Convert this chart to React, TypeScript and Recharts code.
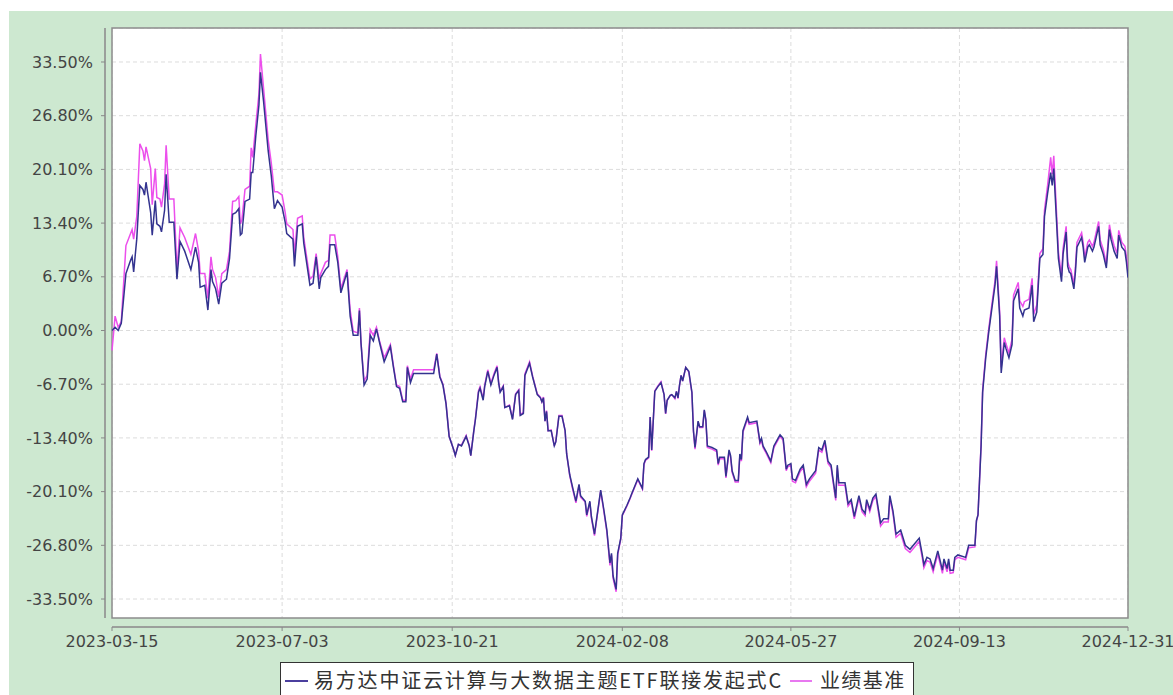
import React from "react";
import {
  LineChart,
  Line,
  XAxis,
  YAxis,
  CartesianGrid,
  ReferenceArea,
  ReferenceLine,
} from "recharts";

// days since 2023-03-15
const days = [
  0, 2, 4, 6, 9, 12, 13, 14, 16, 18, 20, 21, 22, 25, 26, 28, 29, 31, 32, 34, 35, 37, 40, 42, 44, 47, 51, 54, 56, 57,
  60, 62, 64, 65, 67, 69, 71, 74, 76, 78, 80, 82, 83, 84, 86, 89, 90, 91, 93, 95, 96, 98, 101, 103, 105, 107, 110,
  112, 113, 117, 118, 120, 123, 124, 128, 130, 132, 134, 135, 138, 140, 141, 144, 146, 148, 152, 154, 156, 159, 160,
  161, 163, 165, 167, 169, 171, 173, 176, 180, 182, 184, 186, 188, 190, 191, 193, 195, 208, 210, 212, 214, 216, 218,
  221, 222, 224,
  226, 229, 231, 232, 234, 235, 237, 238, 240, 241, 243, 245, 247, 249, 250, 251, 253, 254, 257, 259, 261, 263, 264,
  266, 267, 270, 272, 275, 277, 278, 279, 280, 281, 282, 284, 286, 287, 289, 291, 293, 294, 296, 298, 300, 302, 303,
  306, 307, 309, 310, 312, 316, 318, 320, 322, 323, 324, 326, 327, 329, 330, 333, 335,
  336, 340, 343, 344, 345, 347, 348, 349, 351, 353, 355, 357, 358, 359, 361, 362, 364, 365, 366, 367, 368, 369, 371,
  373, 375, 376, 377, 379, 380, 382, 383, 384, 385, 388, 391, 392, 393, 396, 397, 399, 400, 401, 403, 405, 406, 407,
  408, 411, 412, 417, 419, 420, 421, 423, 426, 428, 430, 432, 434, 436, 437, 439, 440, 442, 445,
  447, 449, 451, 455, 457, 459, 461, 463, 465, 466, 468, 469, 470, 474, 476, 478, 480, 483, 485, 487, 488, 490, 492,
  494, 497, 499, 502, 503, 505, 507, 510, 513, 516, 519, 522, 524, 525, 527, 529, 531, 534, 537, 538, 540, 541, 542,
  544, 545, 547, 552, 554,
  558, 559, 560, 562, 563, 565, 567, 569, 571, 572, 574, 575, 577, 578, 580, 582, 583, 586, 587, 589, 590, 593, 595,
  596, 598, 600, 602, 603, 605, 607, 608, 609, 611, 612, 614, 615, 617, 618, 619, 620, 622, 623, 624, 627, 628, 629,
  631, 632, 634, 635, 638, 639, 641, 643, 645, 646, 648, 650, 651, 653, 655, 656, 657,
];

const fundReturn = [
  0.0, 0.4, 0.0, 0.9, 7.1, 8.75, 9.2, 7.3, 11.4, 18.1, 17.6, 16.9, 18.5, 14.7, 11.9, 16.2, 13.3, 13.0, 12.3, 15.0,
  19.5, 13.5, 13.5, 6.4, 11.1, 9.9, 7.6, 10.4, 8.5, 5.4, 5.65, 2.55, 7.6, 6.1, 5.2, 3.3, 5.9, 6.4, 9.0, 14.5, 14.7,
  15.2, 11.9, 12.1, 16.1, 16.4, 19.7, 19.7, 24.3, 28.1, 32.2, 28.6, 22.4, 19.3, 15.2, 16.2, 15.4,
  13.5, 12.1, 11.4, 8.0, 13.0, 13.3, 10.9, 5.65, 5.9, 9.2, 5.2, 6.6, 7.6, 8.0, 10.7, 10.7, 8.5, 4.7, 7.3, 1.8, -0.6,
  -0.6, 2.5, -1.5, -6.8, -6.05, -0.6, -1.3, 0.2, -1.5, -3.9, -2.0, -4.6, -7.0, -7.2, -8.9, -8.9, -4.6, -6.5, -5.35,
  -5.35, -2.95, -5.8, -6.8, -9.15, -13.2, -14.9, -15.6, -14.2,
  -14.4, -13.2, -14.4, -15.6, -12.5, -11.1, -7.7, -7.2, -8.7, -7.0, -5.1, -6.8, -5.6, -4.6, -6.5, -7.7, -7.0, -9.6,
  -9.4, -11.1, -8.0, -7.5, -10.6, -10.35, -5.6, -4.1, -5.8, -8.0, -8.4, -8.9, -8.4, -11.3, -10.1, -12.5, -12.5, -14.4,
  -13.9, -10.7, -10.7, -12.5, -15.4, -18.0, -19.7, -21.3, -19.2, -20.6, -21.3, -23.0, -21.3, -23.2, -25.4, -19.9,
  -22.3, -24.9, -29.0, -27.8, -30.6, -32.3, -27.8, -25.9, -23.0, -21.8, -20.9,
  -20.4, -18.5, -19.7, -16.6, -16.1, -15.8, -10.8, -14.9, -7.6, -7.0, -6.5, -8.0, -10.35, -8.7, -8.1, -8.0, -8.4,
  -7.6, -8.4, -6.8, -5.6, -6.3, -4.6, -5.1, -7.7, -12.5, -14.6, -11.3, -12.0, -12.0, -9.9, -11.1, -14.4, -14.6, -14.9,
  -16.6, -15.8, -15.8, -18.2, -14.9, -15.6, -17.5, -18.7, -18.7, -15.4, -16.1, -12.5, -10.8, -11.5, -11.3, -13.9,
  -13.45, -14.4, -15.1, -16.3, -14.4, -13.7, -13.0, -13.45, -17.3, -16.8, -16.6, -18.5, -18.7, -17.3,
  -16.8, -19.2, -18.5, -17.5, -14.6, -14.9, -13.7, -16.3, -16.8, -18.2, -20.9, -16.8, -19.0, -19.0, -21.6, -21.1,
  -23.2, -20.6, -22.3, -22.8, -21.1, -22.3, -20.9, -20.4, -24.0, -23.5, -23.5, -20.6, -22.5, -25.4, -24.9, -26.8,
  -27.3, -26.6, -25.9, -28.0, -29.2, -28.3, -28.5, -29.7, -27.5, -29.9, -28.5, -29.7, -28.5, -29.9, -29.9, -28.3,
  -28.0, -28.3, -26.8,
  -26.8, -23.7, -23.0, -14.4, -7.7, -3.4, -0.1, 2.8, 5.65, 8.0, 1.8, -5.3, -1.5, -2.2, -3.4, -1.75, 3.7, 5.2, 2.8,
  1.8, 2.55, 2.8, 5.65, 1.1, 2.3, 9.0, 9.5, 14.25, 17.1, 19.7, 18.1, 20.2, 12.8, 9.0, 6.1, 9.5, 12.3, 8.0, 7.3, 7.1,
  5.2, 7.3, 10.4, 11.6, 10.4, 8.5, 10.4, 10.7, 9.9, 10.4, 13.0, 10.7, 9.5, 7.8, 12.6, 11.4, 9.9, 9.0, 11.9, 10.4,
  9.9, 8.5, 6.6,
];

const benchReturn = [
  -2.5, 1.8, 0.4, 1.1, 10.6, 12.1, 12.6, 11.4, 14.2, 23.3, 22.4, 21.2, 22.9, 20.2, 15.7, 20.2, 16.6, 16.4, 15.4, 18.3,
  23.1, 16.4, 16.4, 7.5, 12.8, 11.6, 9.5, 12.1, 9.9, 7.1, 7.1, 4.0, 9.2, 7.6, 6.6, 4.2, 7.1, 7.6, 9.9, 16.1, 16.2,
  16.7, 13.3, 13.8, 17.6, 18.0, 22.8, 21.6, 25.7, 29.5, 34.5, 30.2, 23.8, 20.9, 17.3, 17.3, 16.9,
  14.7, 13.3, 12.6, 9.5, 14.0, 14.3, 11.6, 6.4, 6.8, 9.6, 6.4, 7.1, 8.5, 8.75, 11.9, 11.9, 9.2, 5.2, 7.6, 2.55, -0.1,
  -0.3, 2.8, -1.5, -6.3, -5.6, 0.1, -0.6, 0.4, -1.3, -3.4, -1.75, -4.4, -6.8, -7.0, -8.7, -8.7, -4.4, -6.05, -4.9,
  -4.9, -2.85, -5.7, -6.7, -9.05, -13.2, -14.9, -15.6, -14.2,
  -14.3, -13.1, -14.3, -15.6, -12.4, -11.0, -7.5, -7.0, -8.5, -6.8, -4.9, -6.6, -5.4, -4.4, -6.4, -7.6, -6.9, -9.6,
  -9.3, -11.0, -7.9, -7.4, -10.5, -10.2, -5.4, -3.9, -5.7, -7.9, -8.3, -8.9, -8.3, -11.3, -10.0, -12.5, -12.4, -14.4,
  -13.8, -10.6, -10.6, -12.5, -15.4, -18.1, -19.9, -21.5, -19.3, -20.8, -21.4, -23.2, -21.4, -23.4, -25.6, -20.0,
  -22.5, -25.1, -29.3, -28.0, -30.9, -32.6, -28.0, -26.0, -23.1, -21.9, -21.0,
  -20.5, -18.6, -19.8, -16.7, -16.2, -15.9, -10.8, -15.0, -7.5, -6.9, -6.4, -8.0, -10.4, -8.7, -8.1, -8.0, -8.5,
  -7.6, -8.5, -6.8, -5.6, -6.3, -4.6, -5.2, -7.8, -12.6, -14.8, -11.4, -12.1, -12.1, -10.0, -11.2, -14.6, -14.8,
  -15.1, -16.8, -16.0, -16.0, -18.4, -15.1, -15.8, -17.7, -18.9, -18.9, -15.6, -16.3, -12.7, -11.0, -11.7, -11.5,
  -14.1, -13.7, -14.6, -15.3, -16.5, -14.6, -13.9, -13.2, -13.7, -17.5, -17.0, -16.8, -18.8, -19.0, -17.6,
  -17.1, -19.5, -18.8, -17.8, -14.9, -15.2, -14.0, -16.6, -17.1, -18.5, -21.2, -17.1, -19.3, -19.3, -21.9, -21.4,
  -23.5, -20.9, -22.6, -23.1, -21.4, -22.6, -21.2, -20.7, -24.4, -23.9, -23.9, -20.9, -22.8, -25.8, -25.3, -27.2,
  -27.7, -27.0, -26.3, -28.4, -29.6, -28.7, -28.9, -30.1, -27.9, -30.3, -28.9, -30.1, -28.9, -30.3, -30.2, -28.6,
  -28.3, -28.6, -27.1,
  -27.0, -23.8, -23.0, -14.2, -7.4, -3.0, 0.3, 3.3, 6.2, 8.7, 2.4, -4.6, -0.9, -1.6, -2.8, -1.1, 4.4, 6.0, 3.7, 3.0,
  3.6, 3.9, 6.5, 2.0, 3.2, 9.6, 10.2, 15.0, 18.1, 21.6, 19.5, 21.8, 13.8, 9.8, 6.8, 10.2, 13.0, 8.6, 7.9, 7.6, 5.8,
  7.9, 11.0, 12.2, 11.0, 9.1, 11.0, 11.3, 10.5, 11.0, 13.6, 11.3, 10.1, 8.3, 13.2, 12.1, 10.6, 9.6, 12.5, 11.0, 10.5,
  9.2, 7.2,
];

const xTickDays = [0, 110, 220, 330, 439, 548, 657];
const xTickLabels = ["2023-03-15", "2023-07-03", "2023-10-21", "2024-02-08", "2024-05-27", "2024-09-13", "2024-12-31"];
const yTicks = [-33.5, -26.8, -20.1, -13.4, -6.7, 0, 6.7, 13.4, 20.1, 26.8, 33.5];

const fundName = "易方达中证云计算与大数据主题ETF联接发起式C";
const benchName = "业绩基准";

const data = days.map((d, i) => ({ day: d, fund: fundReturn[i], bench: benchReturn[i] }));

const X_MIN = -4.53;
const X_MAX = 657;
const Y_MIN = -36.99;
const Y_MAX = 37.74;
const PLOT_BOTTOM = -35.87;

const FUND_COLOR = "#33338f";
const BENCH_COLOR = "#ec4fec";
const BG = "#cde8d0";
const tickStyle = { fontSize: 16, fill: "#444", fontFamily: "DejaVu Sans" };

export default function App() {
  return (
    <>
      <style>{"html,body{margin:0;overflow:hidden;}"}</style>
      <div
        style={{
          position: "absolute",
          left: 9,
          top: 11,
          width: 1164,
          height: 684,
          background: BG,
          overflow: "hidden",
        }}
      >
        <LineChart
          width={1164}
          height={684}
          data={data}
          margin={{ top: 17, right: 45, bottom: 28, left: 0 }}
        >
          <CartesianGrid
            x={103}
            y={17}
            width={1016}
            height={590}
            fill="#ffffff"
            fillOpacity={1}
            stroke="#dcdcdc"
            strokeDasharray="4 3"
          />
          <XAxis
            dataKey="day"
            type="number"
            domain={[X_MIN, X_MAX]}
            ticks={xTickDays}
            interval={0}
            allowDataOverflow
            axisLine={false}
            tickLine={{ stroke: "#888" }}
            tickSize={4}
            tickMargin={5}
            height={40}
            tick={tickStyle}
            tickFormatter={(v: number) => xTickLabels[xTickDays.indexOf(v)] ?? ""}
          />
          <YAxis
            type="number"
            domain={[Y_MIN, Y_MAX]}
            ticks={yTicks}
            interval={0}
            allowDataOverflow
            axisLine={false}
            tickLine={{ stroke: "#888" }}
            tickSize={4}
            tickMargin={8}
            width={96}
            tick={tickStyle}
            tickFormatter={(v: number) => v.toFixed(2) + "%"}
          />
          <ReferenceArea
            x1={0}
            x2={X_MAX}
            y1={PLOT_BOTTOM}
            y2={Y_MAX}
            fill="none"
            stroke="#8c8c8c"
            strokeWidth={1.5}
            ifOverflow="visible"
          />
          <ReferenceLine
            segment={[{ x: X_MIN, y: PLOT_BOTTOM }, { x: X_MIN, y: Y_MAX }]}
            stroke="#888"
            strokeWidth={1.5}
            ifOverflow="visible"
          />
          <ReferenceLine
            segment={[{ x: 0, y: Y_MIN }, { x: X_MAX, y: Y_MIN }]}
            stroke="#888"
            strokeWidth={1.5}
            ifOverflow="visible"
          />
          <Line
            type="linear"
            dataKey="bench"
            stroke={BENCH_COLOR}
            strokeWidth={1.5}
            dot={false}
            isAnimationActive={false}
          />
          <Line
            type="linear"
            dataKey="fund"
            stroke={FUND_COLOR}
            strokeWidth={1.5}
            dot={false}
            isAnimationActive={false}
          />
        </LineChart>
        <div
          style={{
            position: "absolute",
            left: 271,
            top: 651,
            width: 634,
            height: 40,
            background: "#fff",
            border: "1px solid #333",
            display: "flex",
            alignItems: "flex-start",
            paddingTop: 4,
            boxSizing: "border-box",
            fontFamily: "'Noto Sans CJK SC', sans-serif",
            fontSize: 20,
            color: "#333",
            whiteSpace: "nowrap",
          }}
        >
          <span style={{ display: "inline-block", width: 23, height: 2, background: "#4b3f9e", margin: "13px 6px 0 4px" }} />
          <span style={{ letterSpacing: 1.8, lineHeight: "26px" }}>{fundName}</span>
          <span style={{ display: "inline-block", width: 22, height: 2, background: "#e878f0", margin: "13px 8px 0 7px" }} />
          <span style={{ letterSpacing: 1.4, lineHeight: "26px" }}>{benchName}</span>
        </div>
      </div>
    </>
  );
}
